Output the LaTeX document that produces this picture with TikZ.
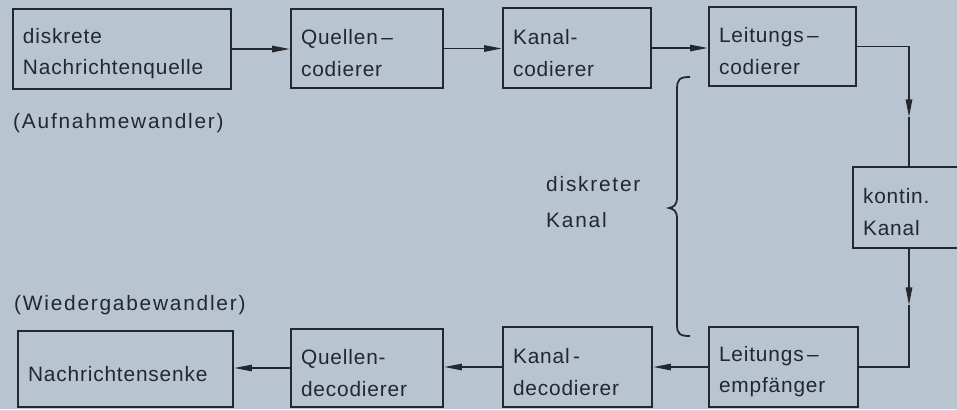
\documentclass[tikz,border=0pt]{standalone}
\usepackage{fontspec}
\setmainfont[LetterSpace=4]{Liberation Sans}
\newfontfamily\widefont[LetterSpace=8.5]{Liberation Sans}
\usetikzlibrary{arrows.meta}
\definecolor{paper}{HTML}{B8C4CF}
\definecolor{ink}{HTML}{23272E}
\begin{document}
\begin{tikzpicture}[x=0.03cm, y=-0.03cm,
  font=\fontsize{17.8}{27}\selectfont,
  every node/.style={text=ink},
  block/.style={draw=ink, line width=2.3pt, inner xsep=0pt, inner ysep=0pt,
    align=left, execute at begin node={\rule{0pt}{21pt}},
    text width=#1*0.03cm-20*0.03cm, minimum width=#1*0.03cm},
  link/.style={draw=ink, line width=1.2pt},
  tip/.style={-{Triangle[length=15pt, width=5.5pt]}},
  label/.style={anchor=base west, inner sep=0pt,
    font=\widefont\fontsize{17.8}{30}\selectfont}]
  % page
  \fill[paper] (0,0) rectangle (957,409);
  \useasboundingbox (0,0) rectangle (957,409);

  % transmitting chain
  \node[block=218, minimum height=80*0.03cm] (src) at (122,49)
    {diskrete\\Nachrichtenquelle};
  \node[block=152, minimum height=79*0.03cm] (qenc) at (367,48.5)
    {Quellen\,–\\codierer};
  \node[block=148, minimum height=80*0.03cm] (kenc) at (577,48)
    {Kanal-\\codierer};
  \node[block=147, minimum height=79*0.03cm] (lenc) at (782.5,46.5)
    {Leitungs\,–\\codierer};

  % continuous channel
  \node[block=112, minimum height=81*0.03cm] (chan) at (909,207.5)
    {kontin.\\Kanal};

  % receiving chain
  \node[block=149, minimum height=80*0.03cm] (lrec) at (783.5,367)
    {Leitungs\,–\\empfänger};
  \node[block=149, minimum height=80*0.03cm] (kdec) at (577.5,367)
    {Kanal\,-\\decodierer};
  \node[block=152, minimum height=78*0.03cm] (qdec) at (367,368)
    {Quellen-\\decodierer};
  \node[block=215, minimum height=76*0.03cm] (sink) at (125.5,369)
    {Nachrichtensenke};

  % side labels
  \node[label] (aufn) at (13,128) {(Aufnahmewandler)};
  \node[label] (wied) at (14,310) {(Wiedergabewandler)};
  \node[label, align=left] (disk) at (546,227)
    {diskreter\\Kanal};

  % connectors
  \coordinate (downA) at (909,117);
  \coordinate (downB) at (909,305);
  \draw[link, tip] (src.east) -- (qenc.west |- src.east);
  \draw[link, tip] (qenc.east) -- (kenc.west |- qenc.east);
  \draw[link, tip] (kenc.east) -- (lenc.west |- kenc.east);
  \draw[link, tip] (lenc.east) -| (downA);
  \draw[link] (downA) -- (chan.north);
  \draw[link, tip] (chan.south) -- (downB);
  \draw[link] (downB) |- (lrec.east);
  \draw[link, tip] (lrec.west) -- (kdec.east |- lrec.west);
  \draw[link, tip] (kdec.west) -- (qdec.east |- kdec.west);
  \draw[link, tip] (qdec.west) -- (sink.east |- qdec.west);

  % brace spanning the discrete channel
  \draw[ink, line width=1.5pt]
    (690,77) .. controls (680,77) and (677,79) .. (677,89)
    -- (677,197) .. controls (677,205) and (674,207) .. (669,208)
    .. controls (674,209) and (677,211) .. (677,219)
    -- (677,325) .. controls (677,334) and (680,336) .. (690,336);
\end{tikzpicture}
\end{document}
